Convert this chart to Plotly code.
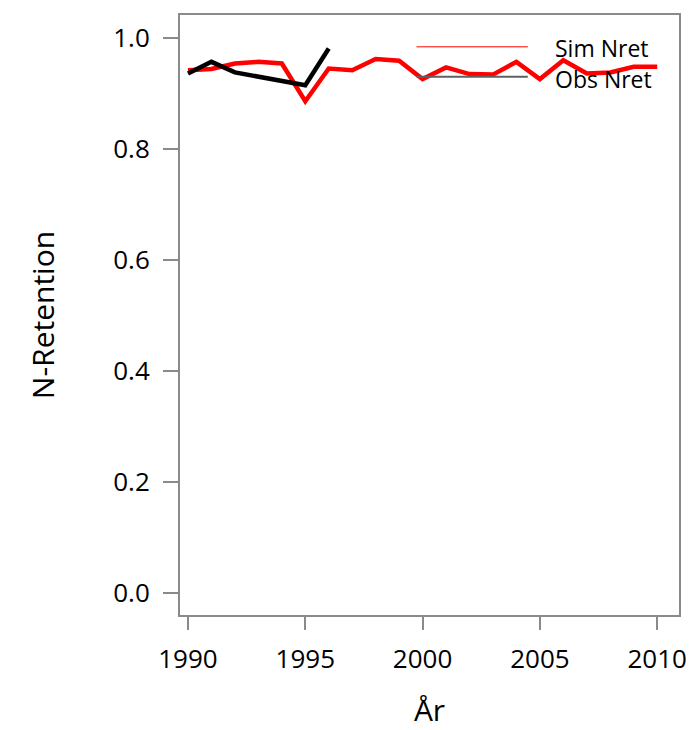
import plotly.graph_objects as go

# Data
sim_years = list(range(1990, 2011))
sim_nret = [0.942, 0.944, 0.954, 0.957, 0.954, 0.886, 0.945, 0.942, 0.962, 0.959,
            0.926, 0.947, 0.935, 0.934, 0.957, 0.926, 0.960, 0.936, 0.938, 0.948, 0.948]

obs_years = list(range(1990, 1997))
obs_nret = [0.936, 0.957, 0.938, 0.930, 0.922, 0.915, 0.981]

x_ticks = [1990, 1995, 2000, 2005, 2010]
y_ticks = [0.0, 0.2, 0.4, 0.6, 0.8, 1.0]

FONT = "Open Sans"
AXIS_GRAY = "#8a8a8a"

fig = go.Figure()

fig.add_trace(go.Scatter(x=sim_years, y=sim_nret, mode="lines", name="Sim Nret",
                         line=dict(color="#ff0000", width=4.5)))
fig.add_trace(go.Scatter(x=obs_years, y=obs_nret, mode="lines", name="Obs Nret",
                         line=dict(color="#000000", width=4.5)))

# Hand-made legend (long thin sample lines, no frame)
fig.add_shape(type="line", xref="paper", yref="paper", x0=0.474, x1=0.697, y0=0.947, y1=0.947,
              line=dict(color="#ff0000", width=1))
fig.add_shape(type="line", xref="paper", yref="paper", x0=0.474, x1=0.697, y0=0.897, y1=0.897,
              line=dict(color="#606060", width=2))
fig.add_annotation(x=0.747, y=0.945, xref="paper", yref="paper", text="Sim Nret",
                   showarrow=False, xanchor="left", yanchor="middle",
                   font=dict(family=FONT, size=23, color="black"))
fig.add_annotation(x=0.747, y=0.893, xref="paper", yref="paper", text="Obs Nret",
                   showarrow=False, xanchor="left", yanchor="middle",
                   font=dict(family=FONT, size=23, color="black"))

fig.update_layout(
    width=686, height=722,
    margin=dict(l=172, r=15, t=7, b=115),
    plot_bgcolor="white", paper_bgcolor="white",
    showlegend=False,
    font=dict(family=FONT, size=26, color="black"),
)

fig.update_xaxes(
    range=[1989.66, 2010.93], tickvals=x_ticks,
    showgrid=False, zeroline=False, automargin=False,
    showline=True, linecolor=AXIS_GRAY, linewidth=2, mirror=True,
    ticks="outside", ticklen=13, tickwidth=2, tickcolor=AXIS_GRAY,
    ticklabelstandoff=7,
    title=dict(text="År", font=dict(size=30), standoff=40),
)
fig.update_yaxes(
    range=[-0.0396, 1.0414], tickvals=y_ticks, tickformat=".1f",
    showgrid=False, zeroline=False, automargin=False,
    showline=True, linecolor=AXIS_GRAY, linewidth=2, mirror=True,
    ticks="outside", ticklen=15, tickwidth=2, tickcolor=AXIS_GRAY,
    ticklabelstandoff=8,
    title=dict(text="N-Retention", font=dict(size=30), standoff=50),
)

fig.write_html("out.html")
